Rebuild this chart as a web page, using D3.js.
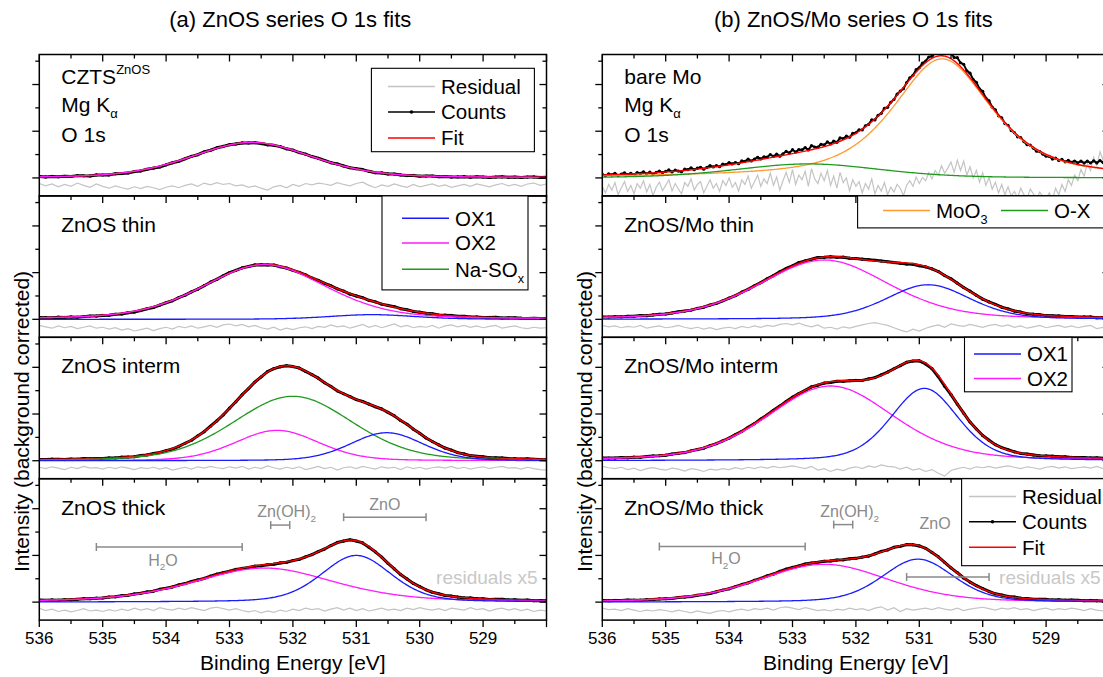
<!DOCTYPE html>
<html><head><meta charset="utf-8">
<script src="https://cdn.jsdelivr.net/npm/d3@7"></script>
<style>
body{margin:0;background:#fff;}
svg{display:block;font-family:"Liberation Sans",Arial,sans-serif;}
</style></head><body>
<svg id="chart" width="1103" height="677"></svg>
<script>
// ---------- axes ----------
const energyDomain = [536, 528];
const energyTicks = [536, 535, 534, 533, 532, 531, 530, 529];
const intensityTicks = [0, 1, 2];
const residStart = 536;

const panelTitles = ["(a) ZnOS series O 1s fits", "(b) ZnOS/Mo series O 1s fits"];
const sampleLabelsA = ["CZTS", "ZnOS thin", "ZnOS interm", "ZnOS thick"];
const sampleLabelsB = ["bare Mo", "ZnOS/Mo thin", "ZnOS/Mo interm", "ZnOS/Mo thick"];

// ---------- fitted components: [centre eV, FWHM eV, height, Lorentzian fraction] ----------
const cztsOX2 = [532.65, 2.25, 0.76, 0.3];
const thinOX1 = [530.75, 1.6, 0.10, 0.3];
const thinOX2 = [532.45, 2.3, 1.17, 0.3];
const intermOX1 = [530.52, 1.35, 0.60, 0.2];
const intermOX2 = [532.25, 1.55, 0.65, 0.2];
const intermNaSOx = [532.0, 2.2, 1.38, 0.2];
const thickOX1 = [531.0, 1.3, 1.00, 0.3];
const thickOX2 = [532.45, 2.6, 0.73, 0.4];
const bareMoO3 = [530.64, 1.84, 2.55, 0.65];
const bareOX = [532.75, 2.7, 0.30, 0.3];
const moThinOX1 = [530.86, 1.56, 0.74, 0.3];
const moThinOX2 = [532.5, 2.39, 1.27, 0.3];
const moIntermOX1 = [530.92, 1.25, 1.55, 0.3];
const moIntermOX2 = [532.4, 2.34, 1.60, 0.3];
const moThickOX1 = [531.02, 1.33, 0.92, 0.3];
const moThickOX2 = [532.5, 2.39, 0.81, 0.3];

// ---------- residuals (x5), sampled from 536 eV downwards ----------
// 0.1 eV spacing
const residCzts = [
 0.03,-0.02,0.02,-0.04,0.01,-0.03,0.04,-0.01,-0.05,0.02,
 -0.03,-0.07,-0.02,-0.06,-0.09,-0.04,-0.08,-0.03,-0.06,-0.1,
 -0.05,-0.02,-0.06,-0.01,0.02,-0.03,0.04,0.0,0.05,0.01,
 0.03,-0.02,0.0,-0.05,-0.02,-0.07,-0.11,-0.04,-0.01,-0.06,
 0.01,-0.03,0.03,0.0,0.04,0.02,-0.01,0.05,0.01,-0.02,
 0.03,0.06,-0.01,-0.06,0.0,-0.03,0.02,-0.02,-0.05,0.01,
 -0.04,-0.01,0.02,-0.03,0.0,-0.05,-0.02,0.01,-0.03,0.02,
 -0.01,-0.04,0.0,0.03,-0.02,0.01,-0.03,0.02,0.04,-0.01,
 0.02];
const residThin = [
 0.02,-0.01,-0.04,0.01,-0.03,0.0,-0.05,-0.02,0.01,-0.04,
 -0.02,-0.06,-0.03,-0.08,-0.05,-0.1,-0.07,-0.04,-0.09,-0.05,
 -0.02,-0.06,0.0,-0.03,0.01,-0.04,-0.01,0.02,-0.02,0.03,
 0.05,0.01,0.04,-0.01,0.02,-0.03,-0.06,-0.02,-0.08,-0.04,
 -0.07,-0.03,-0.01,-0.05,0.0,-0.02,0.03,-0.01,0.01,-0.04,
 0.0,0.04,-0.02,0.02,-0.03,0.01,0.05,-0.01,0.02,-0.03,
 0.0,-0.02,0.02,-0.04,0.01,0.03,-0.01,0.02,-0.02,0.01,
 -0.03,0.0,0.02,-0.04,-0.01,0.01,-0.03,-0.05,-0.02,-0.04,
 -0.03];
const residInterm = [
 0.01,-0.02,0.02,-0.01,-0.04,0.01,-0.02,0.03,-0.01,0.0,
 -0.03,0.01,-0.02,0.02,-0.01,-0.04,0.0,-0.02,0.01,-0.03,
 0.0,-0.05,-0.02,0.01,-0.03,0.02,-0.01,0.03,0.0,-0.02,
 0.02,-0.01,0.03,-0.03,0.01,-0.02,0.04,0.0,-0.03,0.01,
 -0.02,0.02,-0.04,-0.01,0.03,-0.02,0.01,-0.05,0.0,0.02,
 -0.02,0.03,0.0,-0.03,0.02,-0.01,0.01,-0.04,0.02,-0.02,
 0.01,-0.03,0.0,0.02,-0.01,0.03,-0.02,0.01,-0.03,0.0,
 0.02,-0.02,0.01,0.03,-0.01,0.0,-0.03,0.01,-0.02,-0.04,
 -0.05];
const residThick = [
 0.02,-0.03,0.0,-0.05,-0.02,-0.06,-0.03,0.01,-0.04,-0.02,
 -0.05,-0.01,-0.04,0.0,-0.03,0.02,-0.02,0.01,-0.03,0.03,
 0.0,-0.02,0.02,-0.01,0.03,0.0,-0.03,0.02,0.04,0.01,
 -0.02,0.01,-0.03,-0.06,-0.03,-0.08,-0.04,-0.07,-0.02,-0.05,
 0.0,-0.03,0.02,-0.01,0.01,-0.04,0.0,0.03,-0.02,0.02,
 -0.03,0.01,-0.04,-0.01,0.02,-0.02,0.0,-0.03,0.02,-0.01,
 0.03,0.0,-0.02,0.01,-0.03,0.02,0.0,-0.02,0.03,-0.01,
 0.01,-0.04,0.0,0.02,-0.02,0.01,-0.03,0.0,-0.05,-0.02,
 -0.04];
// 0.05 eV spacing (noisier spectrum)
const residBareMo = [
 0.05,-0.08,0.1,-0.02,0.14,-0.12,0.03,0.16,-0.05,0.08,
 -0.1,0.12,0.02,0.18,-0.06,0.1,-0.14,0.04,0.15,-0.03,
 0.08,0.2,-0.04,0.12,0.0,-0.1,0.14,0.06,0.22,-0.02,
 0.1,0.16,-0.08,0.06,0.2,0.02,0.12,-0.05,0.18,0.08,
 0.24,0.04,0.14,-0.04,0.2,0.1,0.28,0.02,0.16,0.3,
 0.06,0.22,0.12,0.34,0.08,0.26,-0.02,0.18,0.36,0.14,
 0.42,0.1,0.3,0.2,0.38,0.06,0.44,0.22,0.12,0.34,
 0.18,0.4,0.08,0.28,0.02,0.36,0.14,0.24,-0.04,0.2,
 0.06,0.16,-0.08,0.12,0.0,0.22,-0.1,0.08,-0.04,0.14,
 -0.12,0.04,-0.06,0.1,0.02,-0.14,0.08,0.18,0.06,0.26,
 0.12,0.25,0.18,0.35,0.22,0.4,0.3,0.5,0.34,0.45,
 0.58,0.36,0.62,0.4,0.6,0.3,0.48,0.24,0.4,0.15,
 0.35,0.08,0.25,0.0,0.15,-0.08,0.1,-0.12,0.05,-0.15,
 -0.05,-0.18,0.02,-0.12,-0.2,0.0,-0.1,-0.22,-0.06,-0.16,
 -0.2,-0.08,-0.22,0.02,-0.12,0.1,-0.05,0.2,0.08,0.3,
 0.18,0.42,0.28,0.55,0.4,0.68,0.5,0.8,0.62,0.75,
 0.7];
// 0.1 eV spacing
const residMoThin = [
 0.02,-0.01,0.01,-0.03,0.0,-0.02,0.02,-0.04,-0.01,0.01,
 -0.03,-0.01,0.02,-0.02,-0.05,-0.02,-0.06,-0.03,-0.07,-0.04,
 -0.02,-0.05,0.0,-0.03,0.01,-0.02,0.02,0.0,0.04,0.06,
 0.03,0.07,0.02,-0.01,0.03,-0.04,-0.02,-0.06,-0.01,-0.04,
 0.0,0.03,0.06,0.08,0.05,0.02,-0.03,-0.08,-0.12,-0.06,
 -0.1,-0.04,0.0,0.03,-0.02,0.05,0.02,0.0,0.04,0.01,
 -0.02,0.02,0.04,0.0,0.03,-0.02,0.01,-0.04,-0.01,0.02,
 -0.03,0.0,0.02,-0.02,0.01,-0.03,0.0,0.02,-0.05,-0.02,
 -0.04];
const residMoInterm = [
 0.03,0.0,-0.02,0.01,-0.04,-0.01,-0.06,-0.02,0.0,-0.03,
 -0.05,-0.01,-0.03,-0.07,-0.02,-0.04,-0.08,-0.03,-0.05,-0.02,
 -0.04,0.0,-0.03,0.01,-0.02,0.02,-0.01,0.03,0.0,0.02,
 0.04,0.01,-0.02,0.03,-0.05,-0.02,-0.08,-0.03,-0.06,-0.01,
 0.02,-0.02,0.04,0.01,0.06,0.03,0.02,-0.03,0.01,-0.05,
 -0.02,-0.08,-0.04,-0.12,-0.18,-0.06,-0.02,0.01,-0.03,0.02,
 0.0,0.03,-0.01,0.02,0.04,0.01,-0.02,0.02,0.0,-0.03,
 0.01,0.03,-0.01,0.02,-0.02,0.0,0.02,-0.01,0.03,-0.02,
 -0.03];
const residMoThick = [
 0.02,-0.01,0.0,-0.03,0.01,-0.02,-0.05,-0.02,-0.04,-0.01,
 -0.03,-0.06,-0.02,-0.05,-0.08,-0.04,-0.07,-0.09,-0.05,-0.03,
 -0.06,-0.02,0.0,-0.03,0.01,-0.01,0.02,-0.02,0.03,0.05,
 0.02,-0.01,0.03,0.0,-0.03,-0.01,-0.04,0.0,-0.02,0.02,
 -0.01,0.01,-0.03,0.02,0.05,-0.02,0.03,-0.05,0.01,-0.02,
 0.0,0.02,-0.01,0.03,0.0,-0.02,0.02,-0.03,0.0,0.02,
 0.04,0.01,-0.02,0.02,0.0,0.03,-0.01,0.01,-0.03,0.0,
 0.02,-0.02,0.01,-0.01,0.02,0.0,-0.03,0.01,-0.02,-0.04,
 -0.02];

// reference ranges marked on the thick films: [from eV, to eV]
const rangeH2O = [535.1, 532.8];
const rangeZnOH2 = [532.35, 532.05];
const rangeZnO = [531.2, 529.9];

// ---------- styling ----------
const colors = {
  OX1: "#1a1aff", OX2: "#ff1aff", NaSOx: "#1f9a1f", MoO3: "#ff9a33", OX: "#1f9a1f",
  fit: "#ff0000", counts: "#000000", resid: "#c4c4c4", note: "#8a8a8a"
};

const svg = d3.select("#chart");
const plotTop = 54.5, subH = 141.4, pxPerEV = 63.4;
const colX0 = [39.3, 602.3];
const yDomain = [-0.385, 2.643];

function pseudoVoigt(E, p) {
  const [c, w, h, m] = p;
  const t = (E - c) / w;
  return h * ((1 - m) * Math.exp(-4 * Math.LN2 * t * t) + m / (1 + 4 * t * t));
}

// subplot definitions
const subplots = [
  { col: 0, row: 0, comps: [[cztsOX2, colors.OX2]], resid: residCzts, step: 0.1, rOff: -0.15 },
  { col: 0, row: 1, comps: [[thinOX1, colors.OX1], [thinOX2, colors.OX2]], resid: residThin, step: 0.1, rOff: -0.15 },
  { col: 0, row: 2, comps: [[intermNaSOx, colors.NaSOx], [intermOX2, colors.OX2], [intermOX1, colors.OX1]], resid: residInterm, step: 0.1, rOff: -0.15 },
  { col: 0, row: 3, comps: [[thickOX2, colors.OX2], [thickOX1, colors.OX1]], resid: residThick, step: 0.1, rOff: -0.15 },
  { col: 1, row: 0, comps: [[bareMoO3, colors.MoO3], [bareOX, colors.OX]], resid: residBareMo, step: 0.05, rOff: -0.24, fitBelow: true },
  { col: 1, row: 1, comps: [[moThinOX2, colors.OX2], [moThinOX1, colors.OX1]], resid: residMoThin, step: 0.1, rOff: -0.15 },
  { col: 1, row: 2, comps: [[moIntermOX2, colors.OX2], [moIntermOX1, colors.OX1]], resid: residMoInterm, step: 0.1, rOff: -0.15 },
  { col: 1, row: 3, comps: [[moThickOX2, colors.OX2], [moThickOX1, colors.OX1]], resid: residMoThick, step: 0.1, rOff: -0.15 }
];

const fineGrid = d3.range(0, 401).map(i => 536 - i * 0.02);
const defs = svg.append("defs");

function xScaleFor(col) {
  const x0 = colX0[col];
  return d3.scaleLinear().domain(energyDomain).range([x0, x0 + 8 * pxPerEV]);
}
function yScaleFor(row) {
  const top = plotTop + row * subH;
  return d3.scaleLinear().domain(yDomain).range([top + subH, top]);
}

subplots.forEach((sp, k) => {
  const x = xScaleFor(sp.col), y = yScaleFor(sp.row);
  const top = plotTop + sp.row * subH;
  const [xl, xr] = x.range();
  const clipId = "clip" + k;
  defs.append("clipPath").attr("id", clipId).append("rect")
    .attr("x", xl).attr("y", top).attr("width", xr - xl).attr("height", subH);
  const g = svg.append("g").attr("clip-path", `url(#${clipId})`);

  const fit = E => d3.sum(sp.comps, c => pseudoVoigt(E, c[0]));
  const line = d3.line().x(d => x(d[0])).y(d => y(d[1]));

  // residual trace
  const resPts = sp.resid.map((r, i) => [residStart - i * sp.step, sp.rOff + r]);
  g.append("path").attr("d", line(resPts)).attr("fill", "none")
    .attr("stroke", colors.resid).attr("stroke-width", 1.2);

  // counts = fit + residual/5
  const cntPts = sp.resid.map((r, i) => { const E = residStart - i * sp.step; return [E, fit(E) + r / 5]; });
  g.append("path").attr("d", line(cntPts)).attr("fill", "none")
    .attr("stroke", colors.counts).attr("stroke-width", sp.step < 0.1 ? 2 : 3).attr("stroke-linejoin", "round");
  g.selectAll(null).data(cntPts).join("circle")
    .attr("cx", d => x(d[0])).attr("cy", d => y(d[1])).attr("r", 1.6).attr("fill", colors.counts);

  const drawComps = () => sp.comps.forEach(([p, col]) => {
    g.append("path").attr("d", line(fineGrid.map(E => [E, pseudoVoigt(E, p)])))
      .attr("fill", "none").attr("stroke", col).attr("stroke-width", 1.3);
  });
  const drawFit = () => g.append("path").attr("d", line(fineGrid.map(E => [E, fit(E)])))
      .attr("fill", "none").attr("stroke", colors.fit).attr("stroke-width", 1.4);
  if (sp.fitBelow) { drawComps(); drawFit(); } else { drawFit(); drawComps(); }
});

// ---------- text helper (sub/superscripts via tspans) ----------
function rich(g, xPos, yPos, parts, size, color, anchor) {
  const t = g.append("text").attr("x", xPos).attr("y", yPos).attr("font-size", size)
    .attr("fill", color || "#000").attr("text-anchor", anchor || "start");
  let shift = 0;
  parts.forEach(([s, kind]) => {
    const target = kind === "sub" ? size * 0.3 : kind === "sup" ? -size * 0.45 : 0;
    const ts = t.append("tspan").attr("font-size", kind ? size * 0.62 : size).text(s);
    if (target - shift !== 0) ts.attr("dy", target - shift);
    shift = target;
  });
  return t;
}

// ---------- frames & ticks ----------
[0, 1].forEach(col => {
  const x = xScaleFor(col);
  const [xl, xr] = x.range();
  const axisG = svg.append("g").attr("stroke", "#000").attr("fill", "none");
  const minorX = d3.range(0, 17).map(i => 536 - i * 0.5);
  for (let row = 0; row < 4; row++) {
    const y = yScaleFor(row);
    const top = plotTop + row * subH;
    axisG.append("rect").attr("x", xl).attr("y", top).attr("width", xr - xl).attr("height", subH)
      .attr("stroke-width", 1.5);
    // ticks hanging from the top edge of each subplot
    minorX.forEach(E => {
      const major = Number.isInteger(E);
      axisG.append("line").attr("x1", x(E)).attr("x2", x(E)).attr("y1", top).attr("y2", top + (major ? 7 : 4))
        .attr("stroke-width", 1.3);
    });
    // intensity ticks: outward on the left, inward on the right
    d3.range(0, 6).map(i => i * 0.5).forEach(v => {
      const major = intensityTicks.includes(v);
      const len = major ? 7 : 4;
      axisG.append("line").attr("x1", xl - len).attr("x2", xl).attr("y1", y(v)).attr("y2", y(v)).attr("stroke-width", 1.3);
      axisG.append("line").attr("x1", xr - len).attr("x2", xr).attr("y1", y(v)).attr("y2", y(v)).attr("stroke-width", 1.3);
    });
  }
  // bottom energy axis
  const bottom = plotTop + 4 * subH;
  minorX.forEach(E => {
    const major = Number.isInteger(E);
    axisG.append("line").attr("x1", x(E)).attr("x2", x(E)).attr("y1", bottom).attr("y2", bottom + (major ? 7 : 4))
      .attr("stroke-width", 1.3);
  });
  svg.append("g").selectAll("text").data(energyTicks).join("text")
    .attr("x", d => x(d)).attr("y", bottom + 24).attr("text-anchor", "middle")
    .attr("font-size", 17).text(d => d);
  svg.append("text").attr("x", colX0[col] + 253.6).attr("y", 670).attr("text-anchor", "middle")
    .attr("font-size", 21).text("Binding Energy [eV]");
  svg.append("text").attr("transform", `translate(${colX0[col] - 10},421.5) rotate(-90)`)
    .attr("text-anchor", "middle").attr("font-size", 21).text("Intensity (background corrected)");
  svg.append("text").attr("x", colX0[col] + 251).attr("y", 27).attr("text-anchor", "middle")
    .attr("font-size", 22).text(panelTitles[col]);
});

// sample labels
const labelG = svg.append("g");
rich(labelG, colX0[0] + 22, plotTop + 29, [[sampleLabelsA[0]], ["ZnOS", "sup"]], 21);
rich(labelG, colX0[0] + 22, plotTop + 57, [["Mg K"], ["\u03b1", "sub"]], 21);
rich(labelG, colX0[0] + 22, plotTop + 87, [["O 1s"]], 21);
rich(labelG, colX0[1] + 22, plotTop + 29, [[sampleLabelsB[0]]], 21);
rich(labelG, colX0[1] + 22, plotTop + 57, [["Mg K"], ["\u03b1", "sub"]], 21);
rich(labelG, colX0[1] + 22, plotTop + 87, [["O 1s"]], 21);
for (let r = 1; r < 4; r++) {
  rich(labelG, colX0[0] + 22, plotTop + r * subH + 36, [[sampleLabelsA[r]]], 21);
  rich(labelG, colX0[1] + 22, plotTop + r * subH + 36, [[sampleLabelsB[r]]], 21);
}

// ---------- range markers on the thick films ----------
function rangeBar(col, row, range, level, labelParts, labelE, labelLevel) {
  const x = xScaleFor(col), y = yScaleFor(row);
  const g = svg.append("g").attr("stroke", colors.note).attr("stroke-width", 1.5);
  const yy = y(level);
  g.append("line").attr("x1", x(range[0])).attr("x2", x(range[1])).attr("y1", yy).attr("y2", yy);
  range.forEach(E => g.append("line").attr("x1", x(E)).attr("x2", x(E)).attr("y1", yy - 4).attr("y2", yy + 4));
  rich(svg, x(labelE), y(labelLevel), labelParts, 16, colors.note, "middle");
}
rangeBar(0, 3, rangeH2O, 1.18, [["H"], ["2", "sub"], ["O"]], 534.05, 0.78);
rangeBar(0, 3, rangeZnOH2, 1.65, [["Zn(OH)"], ["2", "sub"]], 532.1, 1.82);
rangeBar(0, 3, rangeZnO, 1.82, [["ZnO"]], 530.55, 1.97);
rangeBar(1, 3, rangeH2O, 1.19, [["H"], ["2", "sub"], ["O"]], 534.05, 0.81);
rangeBar(1, 3, rangeZnOH2, 1.66, [["Zn(OH)"], ["2", "sub"]], 532.1, 1.82);
rangeBar(1, 3, rangeZnO, 0.54, [["ZnO"]], 530.75, 1.57);
[0, 1].forEach(col => {
  const x = xScaleFor(col), y = yScaleFor(3);
  svg.append("text").attr("x", x(528) - 9).attr("y", y(0.38)).attr("text-anchor", "end")
    .attr("font-size", 19).attr("fill", "#c8c8c8").text("residuals x5");
});

// ---------- legends ----------
function legend(box, rows) {
  const g = svg.append("g");
  g.append("rect").attr("x", box[0]).attr("y", box[1]).attr("width", box[2]).attr("height", box[3])
    .attr("fill", "#fff").attr("stroke", "#000").attr("stroke-width", 1.1);
  rows.forEach(r => {
    g.append("line").attr("x1", r.x).attr("x2", r.x + 47).attr("y1", r.y).attr("y2", r.y)
      .attr("stroke", r.color).attr("stroke-width", 1.4);
    if (r.dot) g.append("circle").attr("cx", r.x + 23.5).attr("cy", r.y).attr("r", 1.8).attr("fill", r.color);
    rich(g, r.x + 53, r.y + 7.3, r.parts, 20.5);
  });
}
legend([371.4, 68.3, 163, 83.4], [
  { x: 388, y: 86.5, color: colors.resid, parts: [["Residual"]] },
  { x: 388, y: 112, color: colors.counts, dot: true, parts: [["Counts"]] },
  { x: 388, y: 138, color: colors.fit, parts: [["Fit"]] }
]);
legend([382, 195.9, 146, 94], [
  { x: 402, y: 218.3, color: colors.OX1, parts: [["OX1"]] },
  { x: 402, y: 243, color: colors.OX2, parts: [["OX2"]] },
  { x: 402, y: 269.3, color: colors.NaSOx, parts: [["Na-SO"], ["x", "sub"]] }
]);
legend([857.6, 195.9, 260, 32], [
  { x: 883, y: 210.5, color: colors.MoO3, parts: [["MoO"], ["3", "sub"]] },
  { x: 1001, y: 210.5, color: colors.OX, parts: [["O-X"]] }
]);
legend([964.5, 337.3, 107.5, 54.5], [
  { x: 974, y: 354, color: colors.OX1, parts: [["OX1"]] },
  { x: 974, y: 378.5, color: colors.OX2, parts: [["OX2"]] }
]);
legend([961.6, 478.7, 160, 87], [
  { x: 969, y: 496.5, color: colors.resid, parts: [["Residual"]] },
  { x: 969, y: 521.7, color: colors.counts, dot: true, parts: [["Counts"]] },
  { x: 969, y: 547.3, color: colors.fit, parts: [["Fit"]] }
]);
</script>
</body></html>
